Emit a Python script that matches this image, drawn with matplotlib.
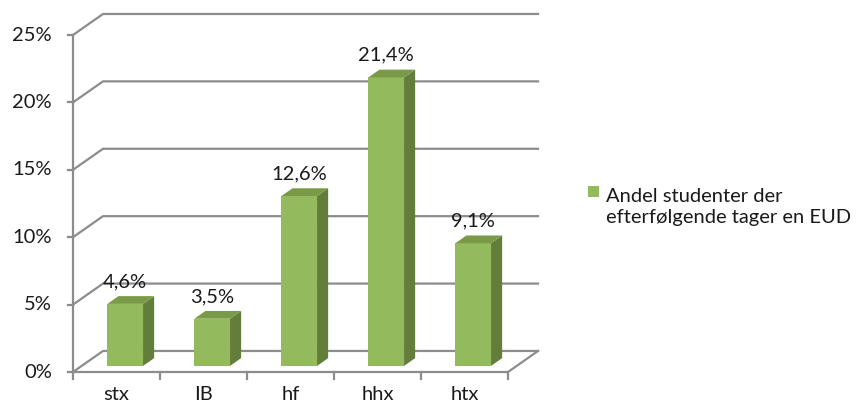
import matplotlib.pyplot as plt
from matplotlib.patches import Polygon, Rectangle

plt.rcParams['font.family'] = ['Lato', 'DejaVu Sans']

categories = ["stx", "IB", "hf", "hhx", "htx"]
values = [4.6, 3.5, 12.6, 21.4, 9.1]
labels = ["4,6%", "3,5%", "12,6%", "21,4%", "9,1%"]
yticks = [0, 5, 10, 15, 20, 25]
legend_label = "Andel studenter der\nefterfølgende tager en EUD"

# 3d look (in data units)
DX = 0.345    # depth offset along x for the back wall
DY = 1.56     # depth offset along y
F0 = 0.29     # bar front position in depth
FD = 0.37     # bar depth
W = 0.41      # bar width

GRID = '#8c8c8c'
FRONT = '#94ba5e'
SIDE = '#637d3b'
TOP = '#7a9a48'
TXT = '#1a1a1a'
FS = 14.5

fig = plt.figure(figsize=(8.61, 4.12), dpi=100)
ax = fig.add_axes([73 / 861, 40 / 412, 435 / 861, 337 / 412])
ax.set_xlim(0, len(categories))
ax.set_ylim(0, 25)
ax.axis('off')

n = len(categories)
##########################################################################################
# walls / gridlines
for y in yticks:
    ax.plot([0, DX, n + DX], [y, y + DY, y + DY], color=GRID, lw=1.6, clip_on=False, zorder=1)
    ax.plot([-0.06, 0], [y, y], color=GRID, lw=1.6, clip_on=False, zorder=1)
    ax.text(-0.24, y, "%d%%" % y, ha='right', va='center', fontsize=FS, color=TXT)
# floor front edge and right edge
ax.plot([0, n, n + DX], [0, 0, DY], color=GRID, lw=1.6, clip_on=False, zorder=1)
ax.plot([0, 0], [0, 25], color=GRID, lw=1.6, clip_on=False, zorder=1)
for i in range(n + 1):
    ax.plot([i, i], [0, -0.5], color=GRID, lw=1.6, clip_on=False, zorder=1)
for i, c in enumerate(categories):
    ax.text(i + 0.5, -1.7, c, ha='center', va='center', fontsize=FS, color=TXT)

##########################################################################################
# bars
for i, v in enumerate(values):
    xl = i + 0.5 - W / 2 + F0 * DX
    xr = xl + W
    yb = F0 * DY
    yt = yb + v
    ax.add_patch(Rectangle((xl, yb), W, v, facecolor=FRONT, edgecolor='none', zorder=3, clip_on=False))
    ax.add_patch(Polygon([(xr, yb), (xr + FD * DX, yb + FD * DY), (xr + FD * DX, yt + FD * DY), (xr, yt)],
                         closed=True, facecolor=SIDE, edgecolor='none', zorder=3, clip_on=False))
    ax.add_patch(Polygon([(xl, yt), (xr, yt), (xr + FD * DX, yt + FD * DY), (xl + FD * DX, yt + FD * DY)],
                         closed=True, facecolor=TOP, edgecolor='none', zorder=3, clip_on=False))
    ax.text(i + 0.5 + F0 * DX, yt + 1.65, labels[i], ha='center', va='center', fontsize=FS, color=TXT, zorder=4)

##########################################################################################
# legend
fig.patches.append(Rectangle((588 / 861, 1 - 197 / 412), 11 / 861, 11 / 412, transform=fig.transFigure,
                             facecolor=FRONT, edgecolor='none'))
fig.text(606 / 861, 1 - 207 / 412, legend_label, ha='left', va='center', fontsize=FS, color=TXT,
         linespacing=1.3)

fig.savefig("out.png", dpi=100)
